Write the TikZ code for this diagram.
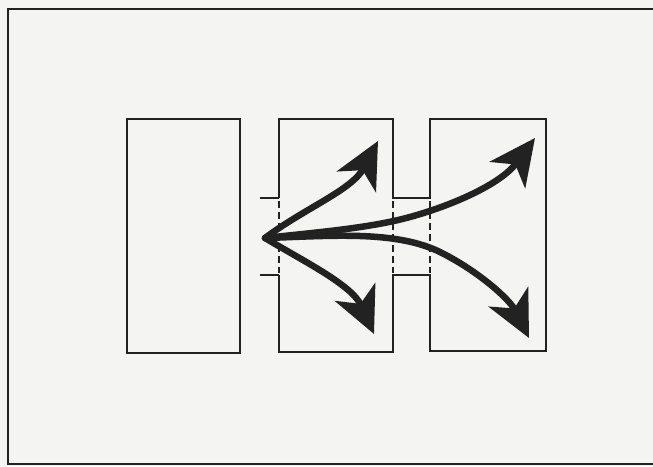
\documentclass[tikz,border=0pt]{standalone}
\usetikzlibrary{arrows.meta}
\definecolor{ink}{HTML}{222222}
\definecolor{paper}{HTML}{F4F4F2}
\tikzset{
  wall/.style={draw=ink, line width=2.8pt, line join=miter},
  gap/.style={draw=ink, line width=2.4pt, dash pattern=on 7pt off 4pt},
  flow/.style={draw=ink, line width=6.5pt, line cap=round,
    -{Stealth[length=46pt,width=44pt,inset=13pt]}},
}
\begin{document}
\begin{tikzpicture}[x=1pt,y=-1pt]
\useasboundingbox (0,0) rectangle (653,466);
\clip (0,0) rectangle (653,466);
\fill[paper] (0,0) rectangle (653,466);
% frame
\draw[wall, line width=2pt] (8,9) rectangle (665,464);
% left block
\draw[wall] (127,119) rectangle (240,353);
% middle + right block joined by bridge
\draw[wall] (279,198) -- (279,119) -- (393,119) -- (393,198) -- (430,198)
  -- (430,119) -- (546,119) -- (546,351) -- (430,351) -- (430,275)
  -- (393,275) -- (393,352) -- (279,352) -- (279,275);
% ledges
\draw[wall] (260,198) -- (279,198);
\draw[wall] (260,275) -- (279,275);
% openings
\draw[gap] (279,201) -- (279,273);
\draw[gap] (393,201) -- (393,273);
\draw[gap] (430,201) -- (430,273);
% arrows
\coordinate (o) at (265,238);
\coordinate (t1) at (378,141);
\coordinate (t2) at (374,334);
\coordinate (t3) at (535,138);
\coordinate (t4) at (529,338);
\draw[flow] (o) .. controls (305,208) and (352,190) .. (t1);
\draw[flow] (o) .. controls (305,262) and (352,285) .. (t2);
\draw[flow] (o) .. controls (320,232) and (370,228) .. (410,217)
  .. controls (450,206) and (500,185) .. (t3);
\draw[flow] (o) .. controls (330,236) and (395,230) .. (440,252)
  .. controls (480,272) and (510,300) .. (t4);
\end{tikzpicture}
\end{document}
